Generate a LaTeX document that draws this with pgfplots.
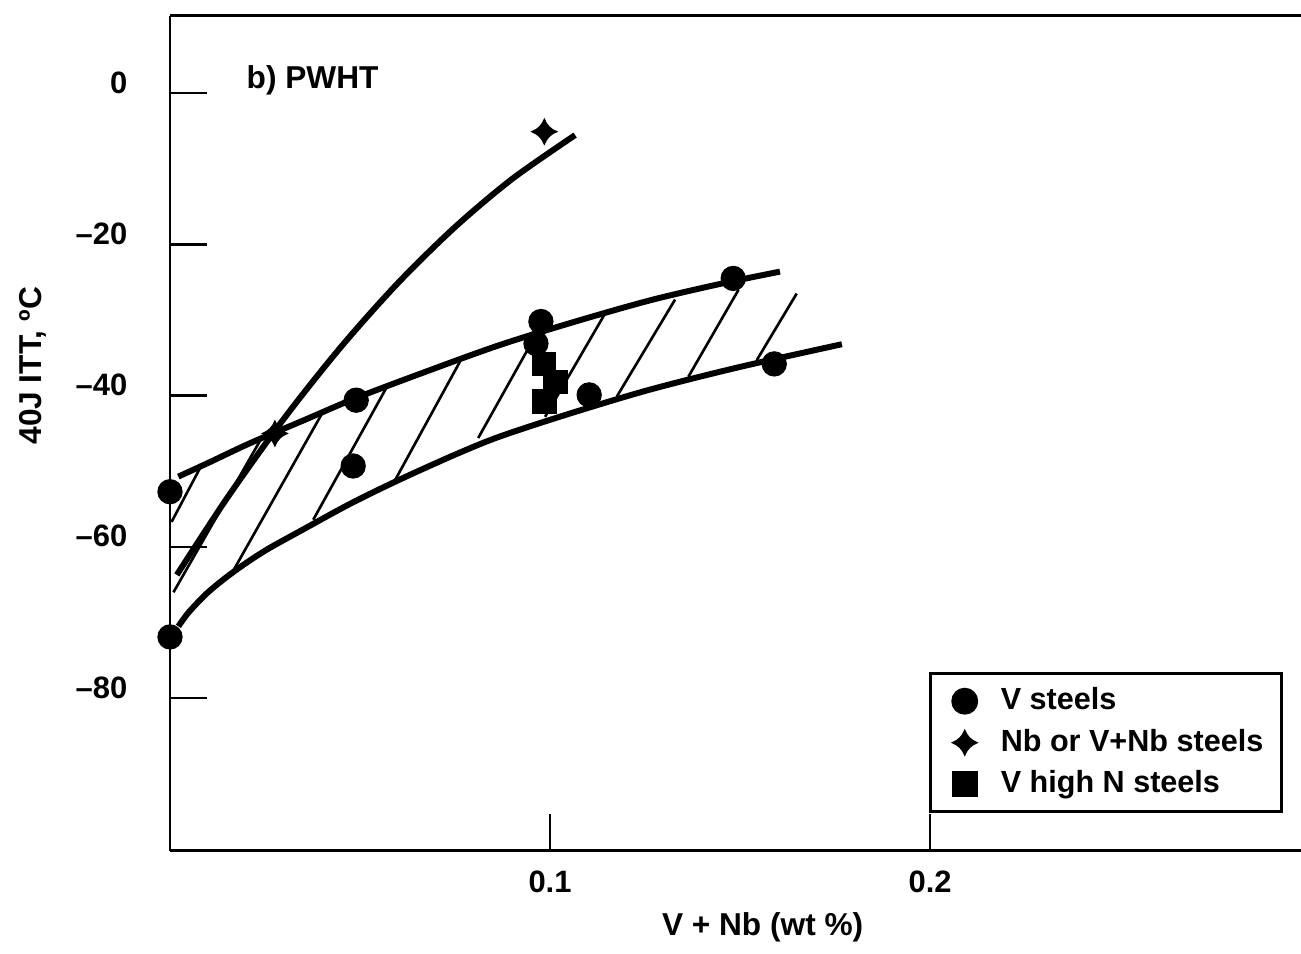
\documentclass[border=0pt]{standalone}
\usepackage{fontspec}
\setmainfont{Liberation Sans}
\usepackage{pgfplots}
\pgfplotsset{compat=1.18}

% four-pointed star used for the Nb steels
\pgfdeclareplotmark{sparkle}{%
  \pgfpathmoveto{\pgfqpoint{0pt}{\pgfplotmarksize}}%
  \pgfpathquadraticcurveto{\pgfqpoint{0.27\pgfplotmarksize}{0.27\pgfplotmarksize}}{\pgfqpoint{\pgfplotmarksize}{0pt}}%
  \pgfpathquadraticcurveto{\pgfqpoint{0.27\pgfplotmarksize}{-0.27\pgfplotmarksize}}{\pgfqpoint{0pt}{-\pgfplotmarksize}}%
  \pgfpathquadraticcurveto{\pgfqpoint{-0.27\pgfplotmarksize}{-0.27\pgfplotmarksize}}{\pgfqpoint{-\pgfplotmarksize}{0pt}}%
  \pgfpathquadraticcurveto{\pgfqpoint{-0.27\pgfplotmarksize}{0.27\pgfplotmarksize}}{\pgfqpoint{0pt}{\pgfplotmarksize}}%
  \pgfpathclose
  \pgfusepathqfillstroke
}

\newcommand{\lblfont}{\fontsize{9}{10.8}\selectfont\bfseries}
\newcommand{\tickfont}{\fontsize{8.8}{10}\selectfont\bfseries}

\pgfplotsset{
  lgmark/.style={legend image code/.code={%
      \path[draw=none, fill=none] (0cm,0cm) rectangle (0.52cm,0cm);
      \draw[##1] plot coordinates {(0.23cm,0cm)};}},
}

\begin{document}
\begin{tikzpicture}
\begin{axis}[
  scale only axis,
  width=11.31cm, height=8.35cm,
  xmin=0, xmax=0.2976,
  ymin=-100.2, ymax=10.2,
  axis x line*=box, axis y line*=left,
  xtick pos=left, ytick pos=left,
  axis line style={line width=0.85pt},
  every tick/.style={black, line width=0.7pt},
  major tick length=0.37cm,
  tick align=inside,
  clip=false,
  xtick={0.1,0.2}, xticklabels={0.1,0.2},
  ytick={-80,-60,-40,-20,0}, yticklabels={–80,–60,–40,–20,0},
  xticklabel style={font=\tickfont, anchor=north, inner sep=0pt, yshift=-0.19cm},
  yticklabel style={font=\tickfont, anchor=base east, inner sep=0pt, xshift=-0.42cm},
  xlabel={V + Nb (wt \%)},
  ylabel={40J ITT, ºC},
  xlabel style={font=\lblfont, at={(axis description cs:0.524,-0.1018)}, anchor=base},
  ylabel style={font=\lblfont, at={(axis description cs:-0.1211,0.581)}, anchor=center},
  legend cell align=left,
  legend style={at={(axis description cs:0.6711,0.2144)}, anchor=north west,
    draw=black, line width=0.85pt, font=\fontsize{8.7}{10}\selectfont\bfseries,
    inner xsep=3.2pt, row sep=0pt},
]
% fitted curves
\addplot[black, line width=1.7pt, smooth, forget plot] coordinates {
  (0.0018,-63.7) (0.015,-53.56) (0.03,-43.03) (0.045,-33.55) (0.06,-25.10)
  (0.075,-17.71) (0.09,-11.36) (0.1066,-5.55)};
\addplot[black, line width=1.7pt, smooth, forget plot] coordinates {
  (0.0022,-50.7) (0.01,-48.9) (0.021,-46.3) (0.035,-43.3) (0.049,-40.3) (0.068,-36.7)
  (0.0868,-33.3) (0.106,-30.3) (0.1263,-27.4) (0.145,-25.2) (0.1605,-23.6)};
\addplot[black, line width=1.7pt, smooth, forget plot] coordinates {
  (0.0022,-70.5) (0.005,-68.6) (0.01,-66.0) (0.0167,-63.3) (0.025,-60.5) (0.035,-57.7)
  (0.0474,-54.3) (0.06,-51.2) (0.075,-47.8) (0.0868,-45.4) (0.105,-42.4) (0.1263,-39.2)
  (0.15,-36.2) (0.1768,-33.2)};
% hatching of the scatter band
\addplot[black, line width=0.75pt, forget plot] coordinates {(0.0004,-56.7) (0.0083,-49.2)};
\addplot[black, line width=0.75pt, forget plot] coordinates {(0.0009,-66.0) (0.0241,-45.6)};
\addplot[black, line width=0.75pt, forget plot] coordinates {(0.0167,-63.1) (0.0403,-42.1)};
\addplot[black, line width=0.75pt, forget plot] coordinates {(0.0377,-56.4) (0.057,-38.9)};
\addplot[black, line width=0.75pt, forget plot] coordinates {(0.0592,-51.2) (0.0763,-35.5)};
\addplot[black, line width=0.75pt, forget plot] coordinates {(0.0811,-45.6) (0.0958,-32.4)};
\addplot[black, line width=0.75pt, forget plot] coordinates {(0.0987,-42.8) (0.1143,-29.3)};
\addplot[black, line width=0.75pt, forget plot] coordinates {(0.1176,-40.1) (0.1329,-27.3)};
\addplot[black, line width=0.75pt, forget plot] coordinates {(0.1364,-37.5) (0.1496,-26.0)};
\addplot[black, line width=0.75pt, forget plot] coordinates {(0.1544,-35.3) (0.1649,-26.5)};
% data
\addplot[only marks, lgmark, mark=*, mark size=3.4pt, black, mark options={fill=black}] coordinates {
  (0,-52.7) (0,-71.9) (0.049,-40.6) (0.0482,-49.3) (0.0976,-30.2) (0.0963,-33.1)
  (0.1103,-39.9) (0.1482,-24.5) (0.159,-35.8)};
\addlegendentry{V steels}
\addplot[only marks, lgmark, mark=sparkle, mark size=3.6pt, black, mark options={fill=black, line width=0.3pt}] coordinates {
  (0.0276,-45.0) (0.0985,-5.1)};
\addlegendentry{Nb or V+Nb steels}
\addplot[only marks, lgmark, mark=square*, mark size=3.3pt, black, mark options={fill=black}] coordinates {
  (0.0984,-35.8) (0.1015,-38.2) (0.0986,-40.8)};
\addlegendentry{V high N steels}
\node[anchor=base west, inner sep=0pt, font=\lblfont] at (axis cs:0.02,0.66) {b) PWHT};
\end{axis}
\pgfresetboundingbox
\path (-1.70cm,-1.03cm) rectangle (11.31cm,8.51cm);
\end{tikzpicture}
\end{document}
